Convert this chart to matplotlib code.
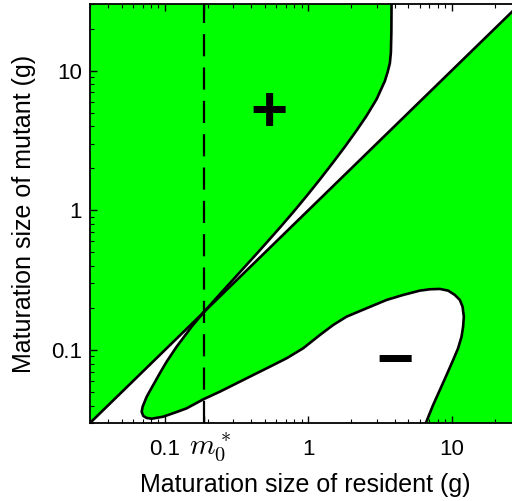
import matplotlib
matplotlib.use('Agg')
import matplotlib.pyplot as plt
from matplotlib.ticker import NullFormatter
from matplotlib.transforms import ScaledTranslation

plt.rcParams['font.family'] = ['Liberation Sans', 'DejaVu Sans']
plt.rcParams['mathtext.fontset'] = 'cm'

# axis range (g)
lim = [0.03, 30]
m0_star = 0.187

# zero-fitness boundary, upper branch (top edge -> m0*)
upper_x = [3.81, 3.80, 3.77, 3.71, 3.59, 3.42, 2.995, 2.551, 2.173, 1.80, 1.492, 1.205, 0.973,
           0.785, 0.634, 0.512, 0.436, 0.355, 0.299, 0.229, 0.187]
upper_y = [30.0, 19.05, 13.5, 11.35, 9.89, 8.41, 6.24, 4.75, 3.73, 2.85, 2.207, 1.663, 1.265,
           0.970, 0.752, 0.587, 0.488, 0.387, 0.319, 0.236, 0.187]

# lower branch / loop (m0* -> bottom edge)
lower_x = [0.187, 0.1536, 0.1207, 0.1028, 0.0923, 0.0829, 0.0746, 0.0699, 0.0688, 0.0706, 0.0746,
           0.0808, 0.0973, 0.1174, 0.1417, 0.185, 0.2418, 0.316, 0.413, 0.540, 0.706, 0.922, 1.205,
           1.492, 1.85, 2.551, 3.52, 4.59, 6.00, 7.05, 8.28, 9.46, 10.53, 11.41, 11.92, 12.17, 12.03,
           11.73, 11.1, 10.25, 9.22, 8.28, 7.43, 6.61]
lower_y = [0.187, 0.1469, 0.1056, 0.0825, 0.0684, 0.0562, 0.0463, 0.0393, 0.0361, 0.0337, 0.0326,
           0.0322, 0.0333, 0.0356, 0.0382, 0.0443, 0.0503, 0.0577, 0.0662, 0.0759, 0.0872, 0.1029, 0.128,
           0.151, 0.1732, 0.1989, 0.2282, 0.2477, 0.266, 0.272, 0.2735, 0.266, 0.2477, 0.2282, 0.2042,
           0.1732, 0.1469, 0.1245, 0.1029, 0.0848, 0.0662, 0.0517, 0.0404, 0.03]

green = '#00ff00'

fig = plt.figure(figsize=(5.12, 5.01), dpi=100)
ax = fig.add_axes([90/512, 78/501, 430/512, 419/501])
ax.set_xscale('log')
ax.set_yscale('log')

lo, hi = lim
# region above diagonal, left of upper branch
ax.fill([lo, lo] + upper_x, [lo, hi] + upper_y, color=green, lw=0)
# region below diagonal, above/right of the loop
ax.fill([m0_star, hi, hi] + lower_x[::-1], [m0_star, hi, lo] + lower_y[::-1], color=green, lw=0)

ax.plot(lim, lim, color='black', lw=1.9)
ax.plot(upper_x, upper_y, color='black', lw=1.9, solid_joinstyle='round')
ax.plot(lower_x, lower_y, color='black', lw=1.9, solid_joinstyle='round')
ax.axvline(m0_star, color='black', lw=1.6, linestyle=(0, (10, 5)))

ax.text(0.531, 4.87, '+', fontsize=46, fontweight='bold', ha='center', va='center')
ax.text(4.02, 0.0806, '\u2212', fontsize=46, fontweight='bold', ha='center', va='center')

ax.set_xlim(lim)
ax.set_ylim(lim)
ax.set_xticks([0.1, m0_star, 1, 10], labels=['0.1', r'$m_0^*$', '1', '10'])
ax.set_yticks([0.1, 1, 10], labels=['0.1', '1', '10'])
ax.xaxis.set_minor_formatter(NullFormatter())
ax.yaxis.set_minor_formatter(NullFormatter())
ax.tick_params(which='both', direction='in', top=True, right=True, labelsize=16)
ax.tick_params(which='major', length=5, width=1)
ax.tick_params(which='minor', length=3, width=0.8)
ax.tick_params(axis='x', pad=22.7)
ax.tick_params(axis='y', pad=6)
for lbl in ax.get_xticklabels():
    lbl.set_verticalalignment('baseline')
m0_lbl = ax.get_xticklabels()[1]
m0_lbl.set_fontsize(21)
m0_lbl.set_transform(m0_lbl.get_transform() + ScaledTranslation(0.06, 0, fig.dpi_scale_trans))
for s in ax.spines.values():
    s.set_linewidth(1.3)

ax.set_xlabel('Maturation size of resident (g)', fontsize=18, labelpad=6)
ax.set_ylabel('Maturation size of mutant (g)', fontsize=18, labelpad=10.5)

plt.savefig('out.png', dpi=100)
plt.close()
